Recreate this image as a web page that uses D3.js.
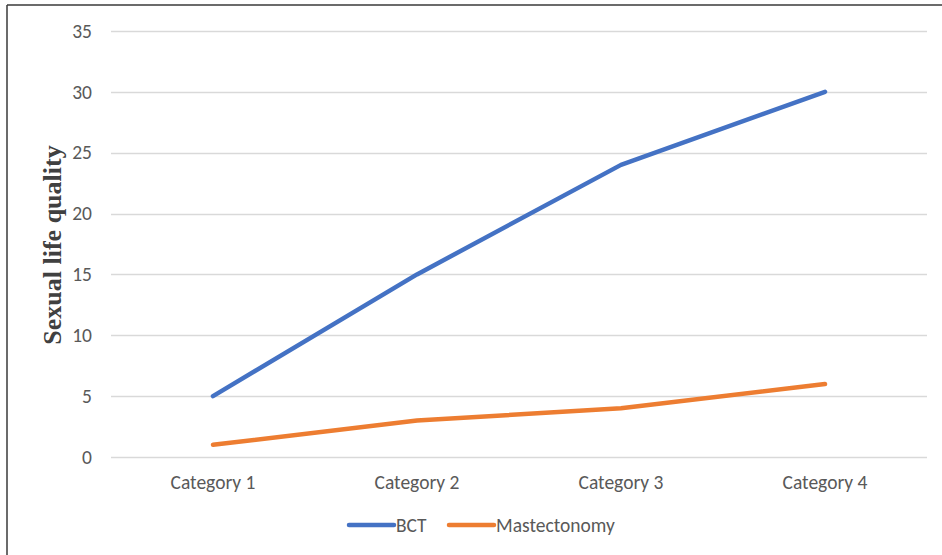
<!DOCTYPE html>
<html><head><meta charset="utf-8">
<script src="https://cdn.jsdelivr.net/npm/d3@7"></script>
<style>html,body{margin:0;padding:0;background:#fff;}svg{display:block;}</style>
</head><body>
<script>
const categories = ["Category 1","Category 2","Category 3","Category 4"];
const bctValues = [5, 15, 24, 30];
const mastValues = [1, 3, 4, 6];
const seriesNames = ["BCT","Mastectonomy"];
const yTicks = [0,5,10,15,20,25,30,35];

const W = 942, H = 555;
const svg = d3.select("body").append("svg").attr("width", W).attr("height", H);
svg.append("rect").attr("width", W).attr("height", H).attr("fill", "#fff");
// border
svg.append("line").attr("x1", 7).attr("x2", 7).attr("y1", 5).attr("y2", H).attr("stroke", "#3a3a3a").attr("stroke-width", 1.5);
svg.append("line").attr("x1", 7).attr("x2", W).attr("y1", 5).attr("y2", 5).attr("stroke", "#3a3a3a").attr("stroke-width", 1.5);

const x = d3.scaleBand().domain(categories).range([111, 927]);
const y = d3.scaleLinear().domain([0, 35]).range([457, 31]);

const font = "Calibri, Carlito, 'Open Sans', 'Liberation Sans', sans-serif";
const fs = 19.5;

// gridlines
svg.append("g").selectAll("line").data(yTicks).join("line")
  .attr("x1", 111).attr("x2", 927)
  .attr("y1", d => Math.round(y(d)) + 0.5).attr("y2", d => Math.round(y(d)) + 0.5)
  .attr("stroke", "#d9d9d9").attr("stroke-width", 1.3);

// y axis
const yAxis = d3.axisLeft(y).tickValues(yTicks).tickSize(0).tickPadding(0);
const yg = svg.append("g").attr("transform", "translate(92,0)").call(yAxis);
yg.select(".domain").remove();
yg.selectAll("text").attr("font-family", font).attr("font-size", fs).attr("fill", "#595959");

// x axis
const xAxis = d3.axisBottom(x).tickSize(0).tickPadding(0);
const xg = svg.append("g").attr("transform", "translate(0,475)").call(xAxis);
xg.select(".domain").remove();
xg.selectAll("text").attr("font-family", font).attr("font-size", fs).attr("fill", "#595959").attr("dy", "0.71em");

// y title
svg.append("text").attr("transform", "translate(61,245) rotate(-90)")
  .attr("text-anchor", "middle").attr("font-family", "'Liberation Serif', 'Times New Roman', serif")
  .attr("font-weight", "bold").attr("font-size", 26).attr("fill", "#404040").text("Sexual life quality");

const line = d3.line().x((d, i) => x(categories[i]) + x.bandwidth() / 2).y(d => y(d));
const colors = ["#4472C4", "#ED7D31"];
[bctValues, mastValues].forEach((vals, k) => {
  svg.append("path").datum(vals).attr("d", line).attr("fill", "none")
    .attr("stroke", colors[k]).attr("stroke-width", 4.5).attr("stroke-linecap", "round").attr("stroke-linejoin", "round");
});

// legend
const legX = [349, 449];
seriesNames.forEach((n, k) => {
  svg.append("line").attr("x1", legX[k]).attr("x2", legX[k] + 45).attr("y1", 525).attr("y2", 525)
    .attr("stroke", colors[k]).attr("stroke-width", 4.5).attr("stroke-linecap", "round");
  svg.append("text").attr("x", legX[k] + 47).attr("y", 525).attr("dy", "0.35em")
    .attr("font-family", font).attr("font-size", fs).attr("fill", "#595959").text(n);
});
</script>
</body></html>
